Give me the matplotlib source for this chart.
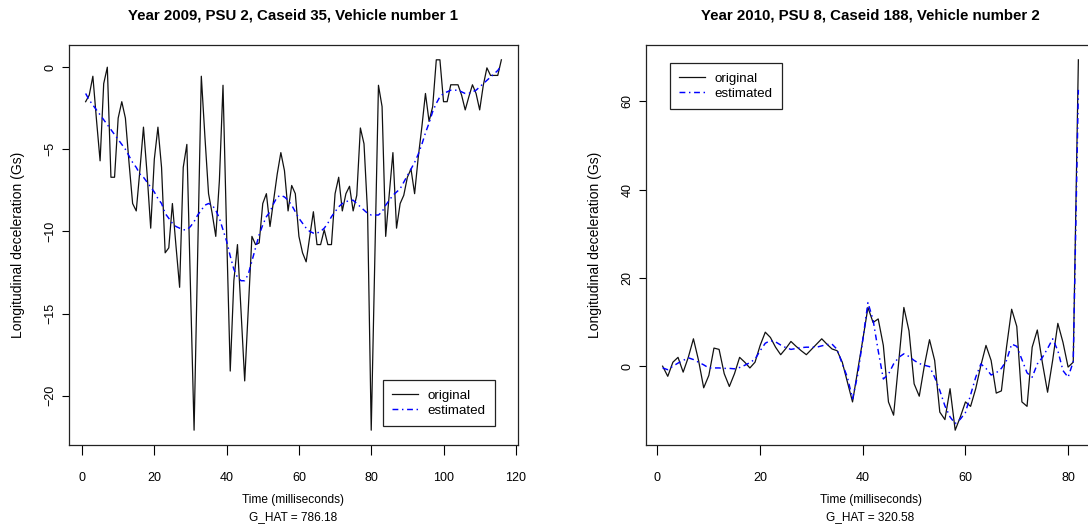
import numpy as np
import matplotlib
matplotlib.use("Agg")
import matplotlib.pyplot as plt

plt.rcParams['font.family'] = ['Liberation Sans', 'DejaVu Sans']

# Painel esquerdo: 2009, PSU 2, Caseid 35, veiculo 1
t_left = list(range(1, 117))
orig_left = [
    -2.1, -1.7, -0.55, -3.2, -5.7, -1.0, 0.0, -6.7, -6.7, -3.1,
    -2.1, -3.1, -5.8, -8.3, -8.75, -6.3, -3.65, -6.5, -9.8, -5.6,
    -3.65, -6.1, -11.3, -11.0, -8.3, -10.9, -13.4, -6.1, -4.7, -13.4,
    -22.1, -11.3, -0.55, -4.25, -7.7, -8.9, -10.3, -6.9, -1.1, -10.1,
    -18.5, -13.0, -10.8, -14.9, -19.1, -14.7, -10.3, -10.8, -10.7, -8.3,
    -7.7, -9.7, -8.1, -6.5, -5.2, -6.3, -8.75, -7.2, -7.7, -10.3,
    -11.3, -11.85, -10.3, -8.8, -10.8, -10.8, -9.9, -10.8, -10.8, -7.7,
    -6.7, -8.75, -7.7, -7.25, -8.75, -7.8, -3.7, -4.66, -8.9, -22.1,
    -11.6, -1.1, -2.4, -10.3, -7.7, -5.2, -9.8, -8.3, -7.8, -6.7,
    -6.2, -7.7, -5.5, -3.65, -1.6, -3.3, -2.4, 0.45, 0.45, -2.1,
    -2.1, -1.07, -1.07, -1.07, -1.7, -2.6, -1.8, -1.07, -1.6, -2.6,
    -1.1, -0.04, -0.5, -0.5, -0.5, 0.45,
]
est_left = [
    -1.6, -2.0, -2.3, -2.6, -2.9, -3.2, -3.5, -3.8, -4.1, -4.4,
    -4.7, -5.0, -5.4, -5.8, -6.1, -6.5, -6.7, -7.0, -7.3, -7.6,
    -8.0, -8.3, -8.9, -9.2, -9.5, -9.7, -9.8, -9.9, -9.9, -9.7,
    -9.4, -9.0, -8.7, -8.4, -8.3, -8.4, -8.7, -9.2, -9.9, -10.6,
    -11.5, -12.3, -12.8, -13.0, -13.0, -12.6, -11.8, -11.0, -10.2, -9.6,
    -9.1, -8.8, -8.3, -7.9, -7.8, -7.9, -8.1, -8.4, -8.8, -9.2,
    -9.5, -9.8, -10.0, -10.1, -10.1, -10.0, -9.8, -9.5, -9.1, -8.8,
    -8.5, -8.3, -8.2, -8.1, -8.1, -8.3, -8.5, -8.7, -8.9, -9.0,
    -9.0, -9.0, -8.8, -8.4, -8.1, -7.8, -7.6, -7.4, -7.0, -6.6,
    -6.2, -5.8, -5.3, -4.7, -4.0, -3.4, -2.7, -2.2, -1.8, -1.6,
    -1.5, -1.4, -1.4, -1.4, -1.5, -1.6, -1.6, -1.5, -1.4, -1.2,
    -1.0, -0.8, -0.6, -0.4, -0.2, 0.1,
]

# Painel direito: 2010, PSU 8, Caseid 188, veiculo 2
t_right = list(range(1, 83))
orig_right = [
    0.0, -2.3, 0.9, 2.0, -1.35, 2.0, 6.2, 1.3, -4.9, -2.1,
    4.1, 3.8, -1.7, -4.6, -1.7, 2.0, 0.9, -0.4, 0.9, 4.7,
    7.7, 6.5, 4.3, 2.6, 4.0, 5.6, 4.5, 3.5, 2.6, 3.8,
    5.0, 6.2, 5.0, 3.9, 3.5, 0.9, -3.6, -8.1, -1.0, 6.0,
    13.3, 9.9, 10.7, 4.7, -8.1, -11.1, 1.0, 13.3, 8.0, -4.0,
    -6.8, 0.15, 6.0, 1.3, -10.4, -12.1, -5.1, -14.5, -11.5, -8.1,
    -9.1, -5.1, 0.15, 4.7, 1.3, -6.1, -5.6, 4.3, 12.9, 9.0,
    -8.1, -9.1, 4.3, 8.2, 0.7, -5.9, 1.4, 9.7, 5.4, -0.2,
    0.9, 69.4,
]
est_right = [
    -0.4, -0.8, 0.0, 0.7, 1.3, 1.9, 1.5, 0.9, 0.3, -0.4,
    -0.4, -0.4, -0.5, -0.5, -0.6, -0.3, 0.2, 0.8, 1.6, 3.5,
    5.2, 5.8, 5.5, 4.8, 4.2, 3.8, 4.0, 4.2, 4.3, 4.3,
    4.3, 4.6, 4.9, 5.0, 3.8, 0.5, -2.5, -7.4, -2.0, 6.0,
    14.4, 10.5, 3.5, -2.9, -1.8, 0.5, 2.0, 2.8, 2.2, 1.3,
    0.6, 0.2, -0.1, -2.5, -5.5, -9.0, -11.5, -13.0, -12.0, -10.5,
    -6.5, -2.5, 0.5, -0.5, -2.0, -1.5, -0.5, 1.3, 5.0, 4.5,
    1.5, -1.5, -2.5, 0.5, 2.0, 4.0, 6.2, 3.5, -1.0, -2.5,
    1.0, 62.6,
]

titles = ["Year 2009, PSU 2, Caseid 35, Vehicle number 1",
          "Year 2010, PSU 8, Caseid 188, Vehicle number 2"]
g_hat = [786.18, 320.58]
xticks_left = [0, 20, 40, 60, 80, 100, 120]
yticks_left = [-20, -15, -10, -5, 0]
xticks_right = [0, 20, 40, 60, 80]
yticks_right = [0, 20, 40, 60]

W, H = 1088, 526
fig = plt.figure(figsize=(W / 100, H / 100), dpi=100)

# caixas dos eixos em pixeis (esq, topo, dir, baixo)
boxes = [(69, 45, 518, 445), (646, 45, 1095, 445)]
axes = []
for (x0, y0, x1, y1) in boxes:
    ax = fig.add_axes([x0 / W, (H - y1) / H, (x1 - x0) / W, (y1 - y0) / H])
    axes.append(ax)

series = [(t_left, orig_left, est_left, xticks_left, yticks_left, 'lower right', (0.949, 0.0475)),
          (t_right, orig_right, est_right, xticks_right, yticks_right, 'upper left', (0.0535, 0.954))]

for k, ax in enumerate(axes):
    t, o, e, xt, yt, loc, anchor = series[k]
    ax.plot(t, o, color='#111111', lw=0.9, label='original')
    ax.plot(t, e, color='#0000FF', lw=1.05, linestyle=(0, (4, 2.5, 1, 2.5)), label='estimated')
    ax.margins(x=0.04, y=0.04)
    ax.set_xticks(xt)
    ax.set_yticks(yt)
    ax.tick_params(axis='x', length=7.2, width=0.8, pad=12, labelsize=9)
    ax.tick_params(axis='y', length=5, width=0.8, pad=4, labelsize=9, labelrotation=90)
    for lab in ax.get_yticklabels():
        lab.set_va('center')
    for sp in ax.spines.values():
        sp.set_linewidth(0.9)
        sp.set_color('#222222')
    ax.set_title(titles[k], fontsize=10.8, fontweight='bold', y=1.064, pad=0)
    ax.set_xlabel(f"Time (milliseconds)\nG_HAT = {g_hat[k]:.2f}", fontsize=8.6, linespacing=1.55)
    ax.xaxis.set_label_coords(0.5, -0.1225)
    ax.set_ylabel("Longitudinal deceleration (Gs)", fontsize=10.0)
    ax.yaxis.set_label_coords(-0.113, 0.5)
    ax.yaxis.label.set_va('center')
    leg = ax.legend(loc=loc, bbox_to_anchor=anchor, borderaxespad=0, fontsize=9.6,
                    fancybox=False, framealpha=1, edgecolor='#222222',
                    handlelength=1.95, handletextpad=0.7, labelspacing=0.2,
                    borderpad=0.7)
    leg.get_frame().set_linewidth(0.9)

fig.savefig('out.png', dpi=100)
